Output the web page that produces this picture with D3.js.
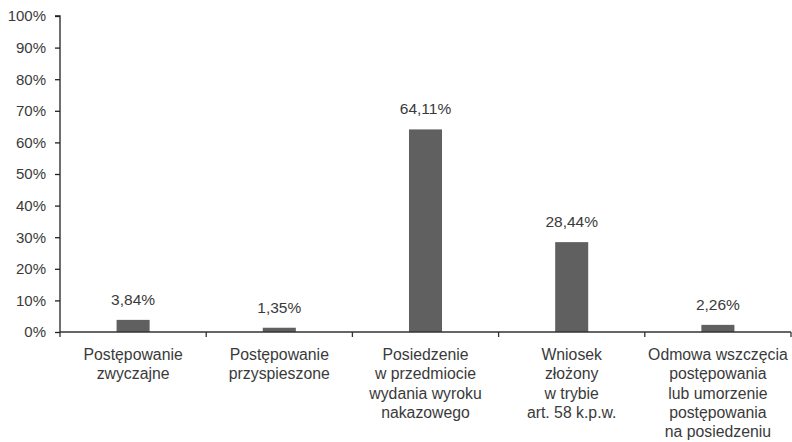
<!DOCTYPE html>
<html><head><meta charset="utf-8">
<script src="https://cdn.jsdelivr.net/npm/d3@7"></script>
<style>
body{margin:0;background:#fff;}
text{font-family:"Liberation Sans",Arial,sans-serif;fill:#3a3a3a;}
</style></head>
<body><svg id="c" width="792" height="442"></svg>
<script>
const categories = [
  ["Postępowanie","zwyczajne"],
  ["Postępowanie","przyspieszone"],
  ["Posiedzenie","w przedmiocie","wydania wyroku","nakazowego"],
  ["Wniosek","złożony","w trybie","art. 58 k.p.w."],
  ["Odmowa wszczęcia","postępowania","lub umorzenie","postępowania","na posiedzeniu"]
];
const values = [3.84, 1.35, 64.11, 28.44, 2.26];
const valueLabels = ["3,84%","1,35%","64,11%","28,44%","2,26%"];
const yTicks = [0,10,20,30,40,50,60,70,80,90,100];

const svg = d3.select("#c");
const x0 = 60, x1 = 791, yTop = 16, yBot = 332;
const x = d3.scaleBand().domain(d3.range(categories.length)).range([x0, x1]).paddingInner(0).paddingOuter(0);
const y = d3.scaleLinear().domain([0,100]).range([yBot, yTop]);
const bw = x.bandwidth()*0.226;

// bars
svg.selectAll("rect.bar").data(values).enter().append("rect")
  .attr("x",(d,i)=>x(i)+x.bandwidth()/2-bw/2)
  .attr("y",d=>y(d)).attr("width",bw).attr("height",d=>yBot-y(d))
  .attr("fill","#606060");

// value labels
svg.selectAll("text.val").data(values).enter().append("text")
  .attr("x",(d,i)=>x(i)+x.bandwidth()/2).attr("y",d=>y(d)-15)
  .attr("text-anchor","middle").attr("font-size",15.5).text((d,i)=>valueLabels[i]);

// y axis
const yAxis = d3.axisLeft(y).tickValues(yTicks).tickFormat(d=>d+"%").tickSize(5).tickPadding(9);
const gy = svg.append("g").attr("transform",`translate(${x0},0)`).call(yAxis);
gy.select(".domain").attr("stroke","#222").attr("stroke-width",1.3).attr("d",`M-5,${yTop}H0V${yBot}`);
gy.selectAll(".tick line").attr("stroke","#222").attr("stroke-width",1.3);
gy.selectAll(".tick text").attr("font-size",15).attr("font-family","Liberation Sans, Arial, sans-serif").attr("fill","#3a3a3a");

// x axis line
svg.append("line").attr("x1",x0).attr("x2",x1).attr("y1",yBot).attr("y2",yBot).attr("stroke","#333").attr("stroke-width",1.5);
// x ticks at band boundaries
const bounds = d3.range(categories.length+1).map(i=> i<categories.length ? x(i) : x1);
svg.selectAll("line.xt").data(bounds).enter().append("line")
  .attr("x1",d=>d).attr("x2",d=>d).attr("y1",yBot).attr("y2",yBot+5)
  .attr("stroke","#333").attr("stroke-width",1.3);

// category labels
categories.forEach((lines,i)=>{
  const t = svg.append("text").attr("text-anchor","middle").attr("font-size",15.8)
    .attr("x",x(i)+x.bandwidth()/2).attr("y",360);
  lines.forEach((l,j)=>t.append("tspan").attr("x",x(i)+x.bandwidth()/2).attr("dy",j?19.3:0).text(l));
});
</script></body></html>
